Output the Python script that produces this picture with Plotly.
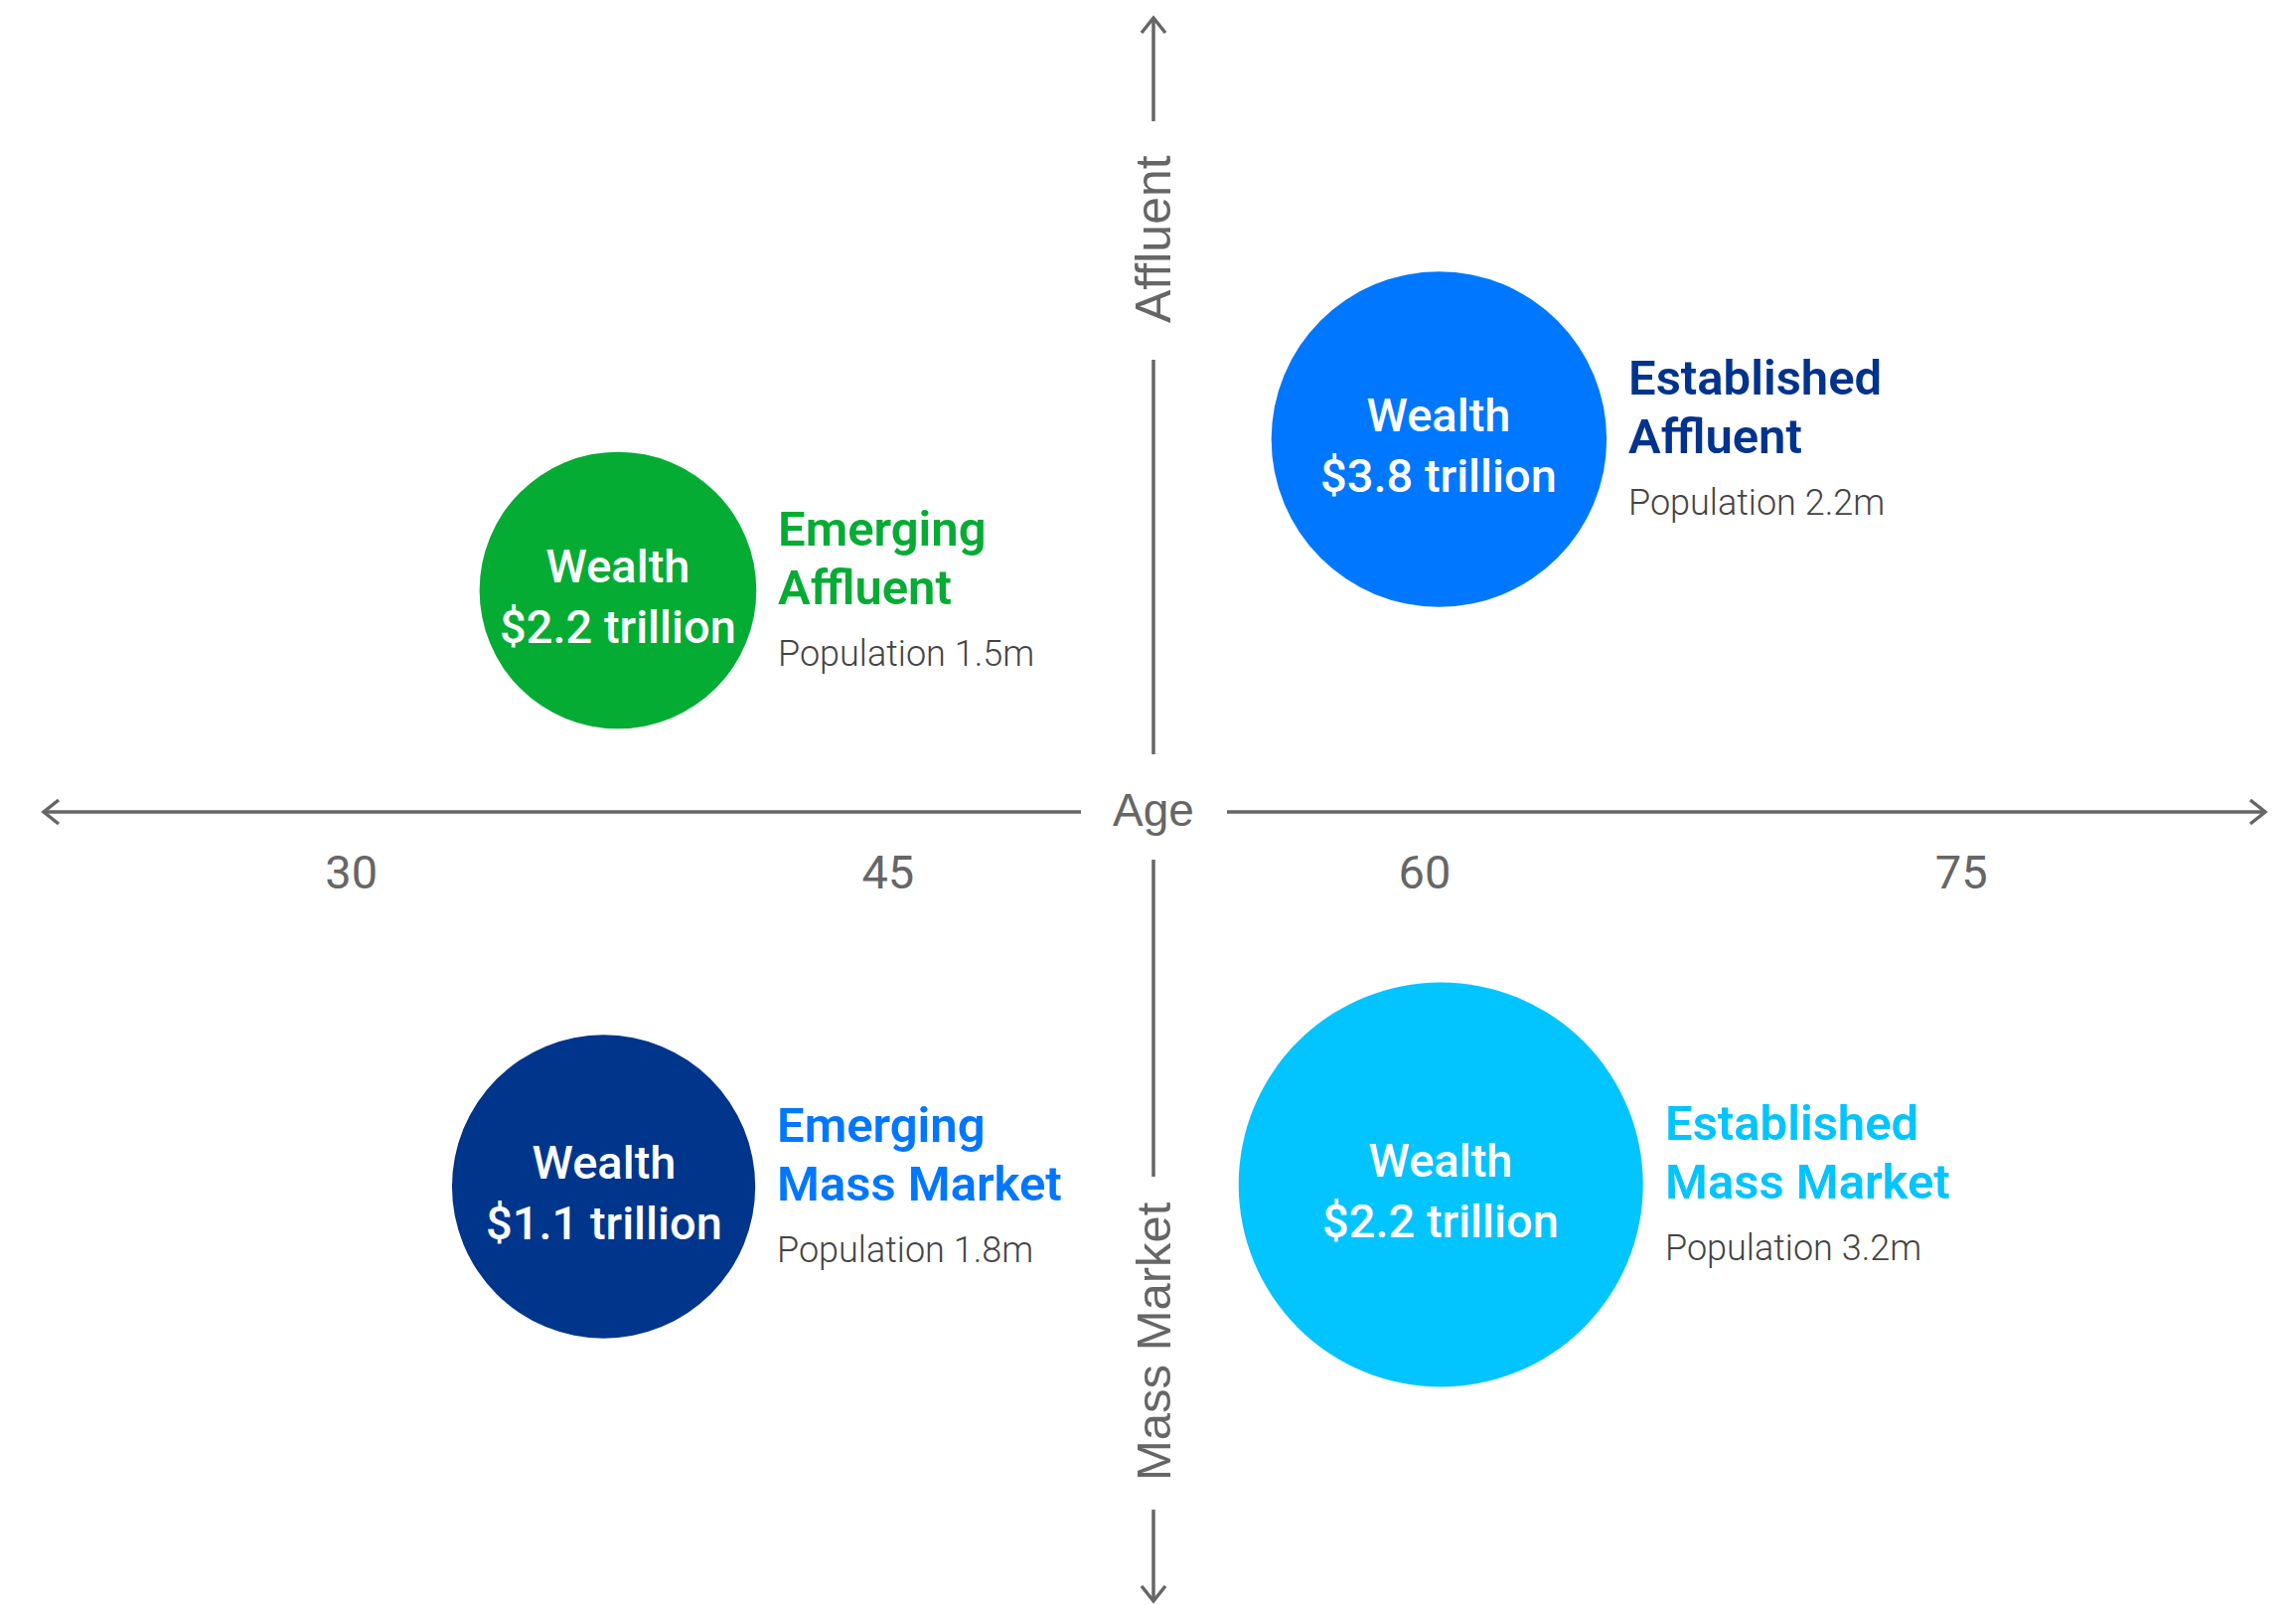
import plotly.graph_objects as go

# ── data ──
segments = ["Emerging Affluent", "Established Affluent", "Emerging Mass Market", "Established Mass Market"]
title_top = ["Emerging", "Established", "Emerging", "Established"]
title_bottom = ["Affluent", "Affluent", "Mass Market", "Mass Market"]
age = [37.45, 60.4, 37.05, 60.45]
affluence = [2.23, 3.75, -3.77, -3.75]
wealth_tn = [2.2, 3.8, 1.1, 2.2]
population_m = [1.5, 2.2, 1.8, 3.2]
circle_colors = ["#04AC34", "#0077FF", "#00358C", "#02C4FF"]
title_colors = ["#04AC34", "#00338D", "#0077FF", "#02C4FF"]
age_ticks = [30, 45, 60, 75]

W, H = 2311, 1615
OFF = 8  # page body margin
AXIS = "#666666"
FONT = "Roboto"

# bubble area ∝ population
D_MAX = 407
sizeref = 2.0 * max(population_m) / D_MAX ** 2


def px(x, y):
    return (x - OFF) / W, 1 - (y - OFF) / H


fig = go.Figure()
fig.add_trace(go.Scatter(
    x=age, y=affluence,
    mode="markers",
    marker=dict(size=population_m, sizemode="area", sizeref=sizeref,
                color=circle_colors, line=dict(width=0), opacity=1),
    hovertext=segments, hoverinfo="text",
    showlegend=False,
))

# ── labels inside and beside each bubble ──
for i, name in enumerate(segments):
    diam = (2 * population_m[i] / sizeref) ** 0.5
    fig.add_annotation(
        x=age[i], y=affluence[i], xref="x", yref="y",
        text=f"Wealth<br>${wealth_tn[i]} trillion", showarrow=False,
        xanchor="center", yanchor="middle", align="center", yshift=-6,
        font=dict(family=FONT, size=47, color="white", weight=500),
    )
    for txt, ys in [(title_top[i], 62), (title_bottom[i], 3)]:
        fig.add_annotation(
            x=age[i], y=affluence[i], xref="x", yref="y",
            text=txt, showarrow=False,
            xanchor="left", yanchor="middle", align="left",
            xshift=diam / 2 + 20, yshift=ys,
            font=dict(family=FONT, size=49, color=title_colors[i], weight=600),
        )
    fig.add_annotation(
        x=age[i], y=affluence[i], xref="x", yref="y",
        text=f"Population {population_m[i]}m", showarrow=False,
        xanchor="left", yanchor="middle", align="left",
        xshift=diam / 2 + 20, yshift=-64,
        font=dict(family=FONT, size=36, color="#444444", weight=300),
    )

# ── quadrant axes (drawn in pixels) ──
shapes = []
line = dict(color=AXIS, width=3.5)
for (x0, y0, x1, y1) in [
    (44, 817, 1088, 817), (1235, 817, 2280, 817),
    (1161, 18, 1161, 122), (1161, 362, 1161, 759),
    (1161, 865, 1161, 1184), (1161, 1519, 1161, 1611),
]:
    a, b = px(x0, y0)
    c, d = px(x1, y1)
    shapes.append(dict(type="line", xref="paper", yref="paper", x0=a, y0=b, x1=c, y1=d, line=line))

for pts in [
    [(59, 805), (44, 817), (59, 829)],
    [(2265, 805), (2280, 817), (2265, 829)],
    [(1149, 33), (1161, 18), (1173, 33)],
    [(1149, 1596), (1161, 1611), (1173, 1596)],
]:
    p = [px(*q) for q in pts]
    path = "M {} {} L {} {} L {} {}".format(*[v for q in p for v in q])
    shapes.append(dict(type="path", xref="paper", yref="paper", path=path, line=line))

for txt, x, y, ang, sz in [("Age", 1161, 815, 0, 46), ("Affluent", 1161, 241, -90, 50),
                           ("Mass Market", 1161, 1350, -90, 49)]:
    a, b = px(x, y)
    fig.add_annotation(
        x=a, y=b, xref="paper", yref="paper", text=txt, showarrow=False,
        textangle=ang, xanchor="center", yanchor="middle",
        font=dict(family="Liberation Sans", size=sz, color=AXIS),
    )

x_lo = 30 - (353.7 - OFF) / 36.01
y_top = (817 - OFF) / 100
fig.update_layout(
    width=W, height=H,
    margin=dict(l=0, r=0, t=0, b=0),
    paper_bgcolor="white", plot_bgcolor="white",
    shapes=shapes,
    showlegend=False,
    xaxis=dict(
        range=[x_lo, x_lo + W / 36.01], tickvals=age_ticks, ticktext=[str(t) for t in age_ticks],
        showgrid=False, zeroline=False, showline=False, ticks="",
        anchor="free", position=1 - (817 - OFF) / H, ticklabelstandoff=29,
        tickfont=dict(family=FONT, size=47, color=AXIS),
        fixedrange=True,
    ),
    yaxis=dict(range=[y_top - H / 100, y_top], visible=False, fixedrange=True),
)

fig.write_html("out.html")
